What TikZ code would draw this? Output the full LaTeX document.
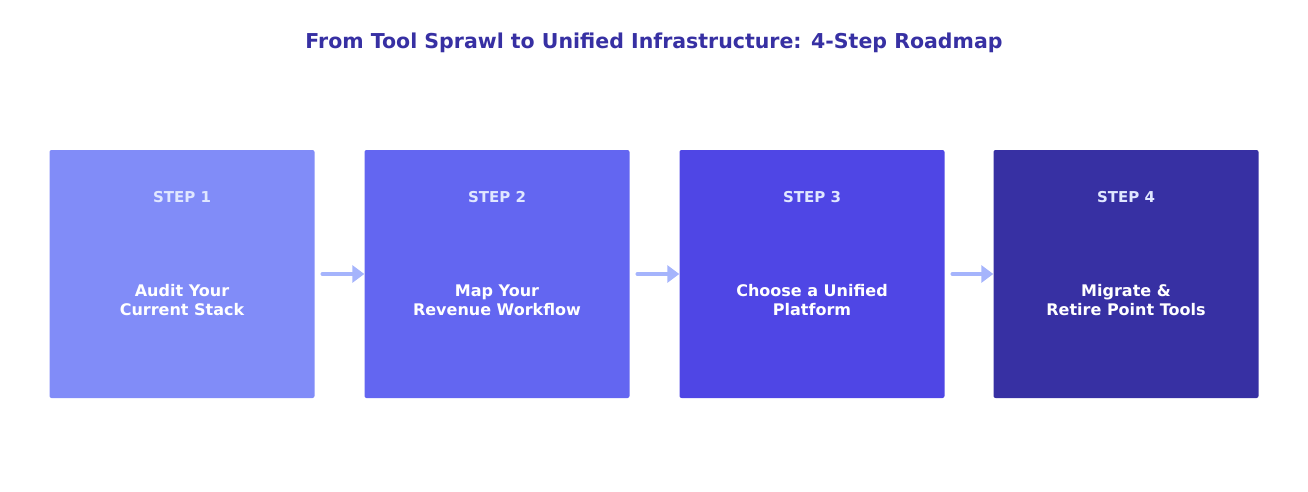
\documentclass[tikz,border=0pt]{standalone}
\usepackage{fontspec}
\setmainfont{DejaVu Sans}
\usetikzlibrary{positioning,arrows.meta}
\definecolor{titleblue}{HTML}{3730A3}
\definecolor{stepone}{HTML}{818CF8}
\definecolor{steptwo}{HTML}{6366F1}
\definecolor{stepthree}{HTML}{4F46E5}
\definecolor{stepfour}{HTML}{3730A3}
\definecolor{steplabel}{HTML}{E0E7FF}
\definecolor{arrowblue}{HTML}{A5B4FC}
\begin{document}
\begin{tikzpicture}[x=1pt,y=-1pt]
        \tikzstyle{box}=[rectangle, rounded corners=2pt, minimum width=265pt, minimum height=248pt, inner sep=0pt]
        \tikzstyle{steptext}=[font=\bfseries\fontsize{15}{18}\selectfont, text=steplabel]
        \tikzstyle{bodytext}=[font=\bfseries\fontsize{16}{19}\selectfont, text=white, align=center]
        \tikzstyle{edge}=[arrowblue, line width=4.5pt, line cap=round, -{Triangle[length=12pt,width=17pt]}]

        \useasboundingbox (0,0) rectangle (1308,492);
        \node[font=\bfseries\fontsize{20.5}{24}\selectfont, text=titleblue] (title) at (654,43) {From Tool Sprawl to Unified Infrastructure: 4-Step Roadmap};

        \node[box, fill=stepone]   (s1) at (182,274) {};
        \node[box, fill=steptwo]   (s2) at (497,274) {};
        \node[box, fill=stepthree] (s3) at (812,274) {};
        \node[box, fill=stepfour]  (s4) at (1126,274) {};

        \node[steptext] at (182,197)  {STEP 1};
        \node[steptext] at (497,197)  {STEP 2};
        \node[steptext] at (812,197)  {STEP 3};
        \node[steptext] at (1126,197) {STEP 4};

        \node[bodytext] at (182,300)  {Audit Your\\Current Stack};
        \node[bodytext] at (497,300)  {Map Your\\Revenue Workflow};
        \node[bodytext] at (812,300)  {Choose a Unified\\Platform};
        \node[bodytext] at (1126,300) {Migrate \&\\Retire Point Tools};

        \draw[edge] ([xshift=8pt]s1.east) -- (s2.west);
        \draw[edge] ([xshift=8pt]s2.east) -- (s3.west);
        \draw[edge] ([xshift=8pt]s3.east) -- (s4.west);
    \end{tikzpicture}
\end{document}
